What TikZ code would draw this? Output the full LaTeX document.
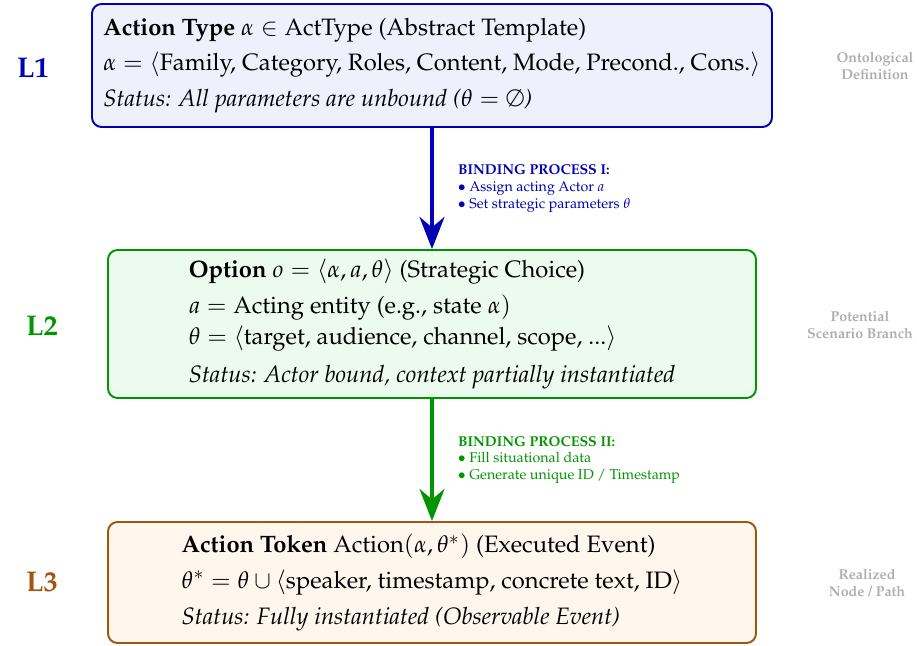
\documentclass[tikz,border=0pt]{standalone}
\usepackage[T1]{fontenc}
\usepackage{mathpazo}
\usepackage{amsmath,amssymb}
\usepackage{tikz}
\usetikzlibrary{arrows.meta}
\usetikzlibrary{positioning}

\definecolor{lonecol}{RGB}{0,0,180}
\definecolor{lonefill}{RGB}{238,240,252}
\definecolor{ltwocol}{RGB}{0,150,0}
\definecolor{ltwofill}{RGB}{236,251,238}
\definecolor{lthreecol}{RGB}{165,85,10}
\definecolor{lthreefill}{RGB}{255,246,238}
\definecolor{sidegray}{RGB}{175,175,175}

\newlength\pxu
\setlength\pxu{0.421pt}

\tikzset{
  layerbox/.style={draw,rounded corners=4pt,line width=0.8pt,align=left,inner sep=0pt},
  levellabel/.style={font=\large\bfseries},
  sidenote/.style={font=\fontsize{6}{7.1}\selectfont\bfseries,text=sidegray,align=center},
  bindarrow/.style={line width=1.7pt,-{Stealth[length=13.5pt,width=10.5pt]}},
  bindnote/.style={font=\fontsize{6}{7}\selectfont,align=left,right=24\pxu,inner sep=0pt}
}

\begin{document}
\begin{tikzpicture}[x=\pxu,y=-\pxu]
  \useasboundingbox (0,0) rectangle (917,646);

  %top
  \node[layerbox,draw=lonecol,fill=lonefill,minimum width=680\pxu,minimum height=123\pxu] (type) at (432,65.5)
    {\textbf{Action Type} $\alpha \in \mathrm{ActType}$ (Abstract Template)\\[3pt]
     $\alpha = \langle\text{Family, Category, Roles, Content, Mode, Precond., Cons.}\rangle$\\[3pt]
     \textit{Status: All parameters are unbound ($\theta = \emptyset$)}};
  \node[levellabel,text=lonecol] (l1) at (33,68) {L1};
  \node[sidenote] (n1) at (875,66) {Ontological\\Definition};

  %middle
  \node[layerbox,draw=ltwocol,fill=ltwofill,minimum width=648\pxu,minimum height=148\pxu] (option) at (432,324)
    {\textbf{Option} $o = \langle\alpha, a, \theta\rangle$ (Strategic Choice)\\[3pt]
     $a = \text{Acting entity (e.g., state } \alpha)$\\[1pt]
     $\theta = \langle\text{target, audience, channel, scope, ...}\rangle$\\[4pt]
     \textit{Status: Actor bound, context partially instantiated}};
  \node[levellabel,text=ltwocol] (l2) at (42,326) {L2};
  \node[sidenote] (n2) at (860,325) {Potential\\Scenario Branch};

  %bottom
  \node[layerbox,draw=lthreecol,fill=lthreefill,minimum width=648\pxu,minimum height=121\pxu] (token) at (432,582.5)
    {\textbf{Action Token} $\mathrm{Action}(\alpha, \theta^{*})$ (Executed Event)\\[3pt]
     $\theta^{*} = \theta \cup \langle\text{speaker, timestamp, concrete text, ID}\rangle$\\[3pt]
     \textit{Status: Fully instantiated (Observable Event)}};
  \node[levellabel,text=lthreecol] (l3) at (42,582) {L3};
  \node[sidenote] (n3) at (867,583) {Realized\\Node / Path};

  %binding steps
  \draw[bindarrow,lonecol] (type) -- (option)
    node[midway,bindnote,text=lonecol] (b1) {\textbf{BINDING PROCESS I:}\\
      $\bullet$ Assign acting Actor $a$\\
      $\bullet$ Set strategic parameters $\theta$};
  \draw[bindarrow,ltwocol] (option) -- (token)
    node[midway,bindnote,text=ltwocol] (b2) {\textbf{BINDING PROCESS II:}\\
      $\bullet$ Fill situational data\\
      $\bullet$ Generate unique ID / Timestamp};
\end{tikzpicture}
\end{document}
